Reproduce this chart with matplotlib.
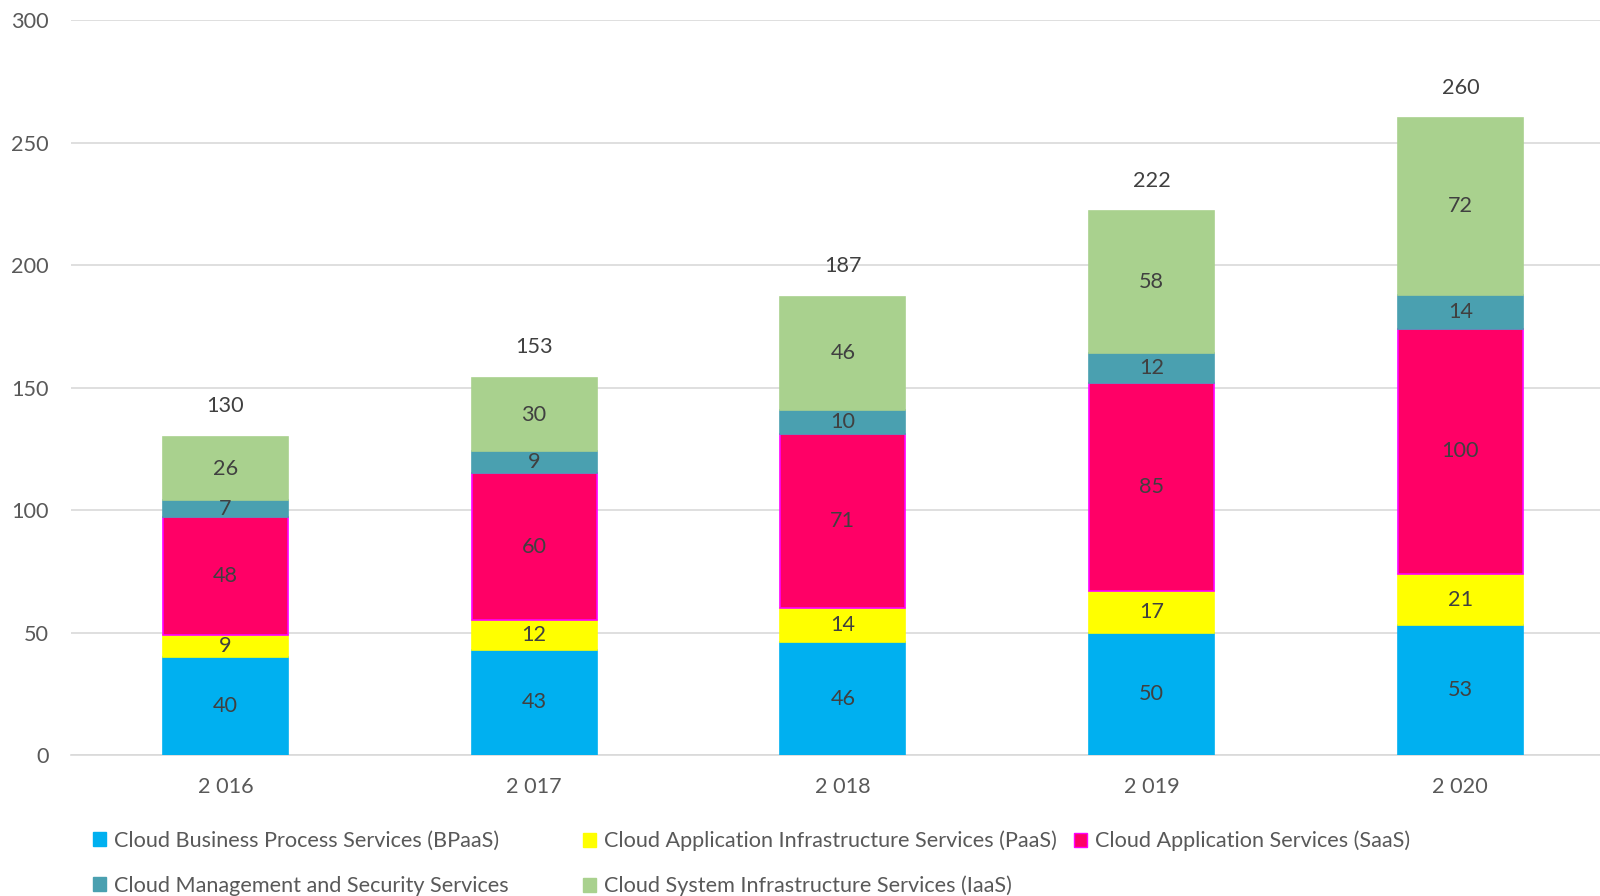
import matplotlib
matplotlib.use("Agg")
import matplotlib.pyplot as plt
from matplotlib.patches import Patch

plt.rcParams['font.family'] = ['Lato', 'DejaVu Sans']

years = ['2 016', '2 017', '2 018', '2 019', '2 020']
series_names = [
    'Cloud Business Process Services (BPaaS)',
    'Cloud Application Infrastructure Services (PaaS)',
    'Cloud Application Services (SaaS)',
    'Cloud Management and Security Services',
    'Cloud System Infrastructure Services (IaaS)',
]
bpaas = [40, 43, 46, 50, 53]
paas = [9, 12, 14, 17, 21]
saas = [48, 60, 71, 85, 100]
mgmt = [7, 9, 10, 12, 14]
iaas = [26, 30, 46, 58, 72]
totals = [130, 153, 187, 222, 260]

series = [bpaas, paas, saas, mgmt, iaas]
colors = ['#00B0F0', '#FFFF00', '#FF0066', '#4AA0B0', '#A9D18E']
edges = ['#00B0F0', '#FFFF00', '#FF00FF', '#4AA0B0', '#A9D18E']

FS = 15.6

fig = plt.figure(figsize=(16, 8.96), dpi=100)
ax = fig.add_axes([71/1600, 1 - 755/896, (1614.7 - 71)/1600, (755 - 20.4)/896])

x = list(range(len(years)))
bottom = [0] * len(years)
containers = []
for vals, c, e in zip(series, colors, edges):
    bc = ax.bar(x, vals, width=0.405, bottom=bottom, color=c, edgecolor=e,
                linewidth=1.2, zorder=3)
    containers.append(bc)
    ax.bar_label(bc, labels=[str(v) for v in vals], label_type='center',
                 fontsize=FS, color='#404040', zorder=4)
    bottom = [b + v for b, v in zip(bottom, vals)]

ax.bar_label(containers[-1], labels=[str(t) for t in totals], padding=15,
             fontsize=FS, color='#404040')

ax.set_xlim(-0.5, 4.5)
ax.set_ylim(0, 300)
ax.set_yticks([0, 50, 100, 150, 200, 250, 300])
ax.set_xticks(x)
ax.set_xticklabels(years)
ax.tick_params(axis='y', length=0, pad=16, labelsize=FS, labelcolor='#595959')
ax.tick_params(axis='x', length=0, pad=15.5, labelsize=FS, labelcolor='#595959')
ax.grid(axis='y', color='#D9D9D9', linewidth=1.2, zorder=0)
ax.set_axisbelow(True)
for s in ['top', 'right', 'left']:
    ax.spines[s].set_visible(False)
ax.spines['bottom'].set_color('#D9D9D9')
ax.spines['bottom'].set_linewidth(1.2)

# Legend entries placed in a 3-column grid (row-major)
positions = [
    (93/1600, 1 - 841/896),
    (583/1600, 1 - 841/896),
    (1074/1600, 1 - 841/896),
    (93/1600, 1 - 886/896),
    (583/1600, 1 - 886/896),
]
for name, c, e, pos in zip(series_names, colors, edges, positions):
    h = Patch(facecolor=c, edgecolor=e, linewidth=1.0)
    fig.legend([h], [name], loc='center left', bbox_to_anchor=pos,
               frameon=False, borderpad=0, borderaxespad=0,
               handlelength=0.6, handleheight=0.6, handletextpad=0.35,
               fontsize=FS, labelcolor='#595959')

fig.savefig('out.png', dpi=100)
